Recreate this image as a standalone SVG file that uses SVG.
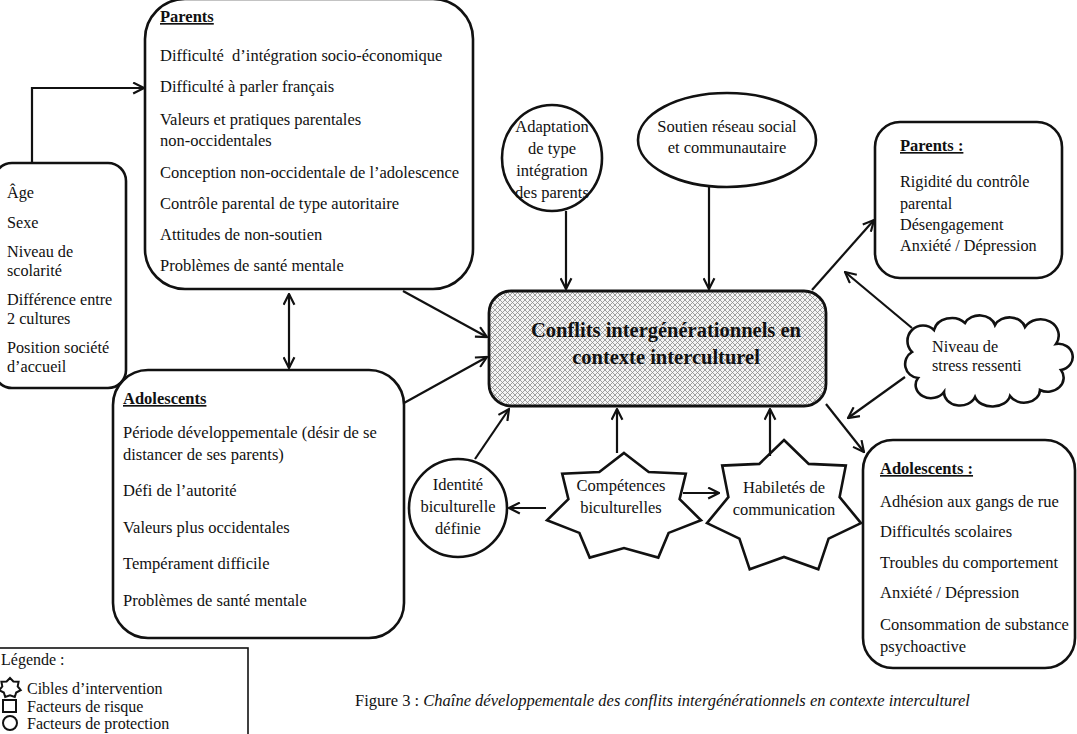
<svg xmlns="http://www.w3.org/2000/svg" width="1077" height="734" viewBox="0 0 1077 734">
<style>
text{font-family:"Liberation Serif","Times New Roman",serif;font-size:16.5px;fill:#111}
.h{font-weight:bold;text-decoration:underline}
.c{text-anchor:middle}
.s{font-size:16.2px}
.box{fill:#fff;stroke:#111;stroke-width:2.6}
.shape{fill:#fff;stroke:#111;stroke-width:2.6}
.conn path{fill:none;stroke:#111;stroke-width:2.2}
.title{font-weight:bold;font-size:20.5px;text-anchor:middle}
.leg{font-size:16px}
</style>
<defs>
<marker id="ah" viewBox="0 0 12 12" markerUnits="userSpaceOnUse" markerWidth="13" markerHeight="13" refX="11" refY="6" orient="auto-start-reverse">
<path d="M1,1 L11,6 L1,11" fill="none" stroke="#111" stroke-width="2"/>
</marker>
<pattern id="hatch" width="5" height="5" patternUnits="userSpaceOnUse">
<rect width="5" height="5" fill="#f4f4f4"/>
<path d="M0,0 L5,5 M5,0 L0,5" stroke="#8a8a8a" stroke-width="0.8"/>
</pattern>
</defs>

<g id="demographics">
<rect class="box" x="-6" y="163" width="132" height="225" rx="18"/>
<text class="s" x="7" y="198">Âge</text>
<text class="s" x="7" y="228">Sexe</text>
<text class="s" x="7" y="257">Niveau de</text>
<text class="s" x="7" y="276">scolarité</text>
<text class="s" x="7" y="305">Différence entre</text>
<text class="s" x="7" y="324">2 cultures</text>
<text class="s" x="7" y="353">Position société</text>
<text class="s" x="7" y="372">d’accueil</text>
</g>

<g id="parents-risk">
<rect class="box" x="145" y="-1" width="328" height="290" rx="40"/>
<text class="h" x="160" y="22">Parents</text>
<text x="160" y="61" xml:space="preserve">Difficulté  d’intégration socio-économique</text>
<text x="160" y="92">Difficulté à parler français</text>
<text x="160" y="125">Valeurs et pratiques parentales</text>
<text x="160" y="146">non-occidentales</text>
<text x="160" y="178">Conception non-occidentale de l’adolescence</text>
<text x="160" y="209">Contrôle parental de type autoritaire</text>
<text x="160" y="240">Attitudes de non-soutien</text>
<text x="160" y="271">Problèmes de santé mentale</text>
</g>

<g id="adolescents-risk">
<rect class="box" x="113" y="370" width="291" height="268" rx="35"/>
<text class="h" x="123" y="404">Adolescents</text>
<text x="123" y="438">Période développementale (désir de se</text>
<text x="123" y="460">distancer de ses parents)</text>
<text x="123" y="496">Défi de l’autorité</text>
<text x="123" y="533">Valeurs plus occidentales</text>
<text x="123" y="569">Tempérament difficile</text>
<text x="123" y="606">Problèmes de santé mentale</text>
</g>

<g id="central">
<rect x="489" y="291" width="337" height="115" rx="22" fill="url(#hatch)" stroke="#111" stroke-width="2.8"/>
<text class="title" x="666" y="337">Conflits intergénérationnels en</text>
<text class="title" x="666" y="364">contexte interculturel</text>
</g>

<g id="adaptation">
<ellipse class="shape" cx="552" cy="158" rx="50" ry="53"/>
<text class="c" x="552" y="132">Adaptation</text>
<text class="c" x="552" y="154">de type</text>
<text class="c" x="552" y="176">intégration</text>
<text class="c" x="552" y="198">des parents</text>
</g>

<g id="soutien">
<ellipse class="shape" cx="727" cy="140" rx="89" ry="47"/>
<text class="c" x="727" y="132">Soutien réseau social</text>
<text class="c" x="727" y="153">et communautaire</text>
</g>

<g id="identite">
<circle class="shape" cx="458" cy="508" r="49"/>
<text class="c" x="458" y="490">Identité</text>
<text class="c" x="458" y="512">biculturelle</text>
<text class="c" x="458" y="534">définie</text>
</g>

<g id="competences">
<polygon class="shape" points="624,453 648.7,472 685.8,473.7 679.6,499.1 701,520.2 668.6,532.9 658.3,557.6 624,548 589.7,557.6 579.4,532.9 547,520.2 568.4,499.1 562.2,473.7 599.3,472"/>
<text class="c" x="621" y="491">Compétences</text>
<text class="c" x="621" y="513">biculturelles</text>
</g>

<g id="habiletes">
<polygon class="shape" points="784,440 808.7,463.9 845.8,465.6 839.6,497.1 861,523.1 828.6,538.6 818.3,569.3 784,557 749.7,569.3 739.4,538.6 707,523.1 728.4,497.1 722.2,465.6 759.3,463.9"/>
<text class="c" x="784" y="493">Habiletés de</text>
<text class="c" x="784" y="515">communication</text>
</g>

<g id="parents-outcomes">
<rect class="box" x="875" y="122" width="187" height="156" rx="25"/>
<text class="h" x="900" y="151">Parents :</text>
<text class="s" x="900" y="187">Rigidité du contrôle</text>
<text class="s" x="900" y="209">parental</text>
<text class="s" x="900" y="230">Désengagement</text>
<text class="s" x="900" y="251">Anxiété / Dépression</text>
</g>

<g id="stress">
<path class="shape" d="M912,352 A14,14 0 0 1 934,330 A18,15 0 0 1 965,323 A16,13 0 0 1 995,325 A16,13 0 0 1 1025,327 A18,16 0 0 1 1056,344 A14,13 0 0 1 1061,370 A16,14 0 0 1 1040,390 A16,13 0 0 1 1010,396 A18,13 0 0 1 975,397 A16,13 0 0 1 944,392 A14,12 0 0 1 918,378 A14,14 0 0 1 912,352 Z"/>
<text class="s" x="932" y="352">Niveau de</text>
<text class="s" x="932" y="371">stress ressenti</text>
</g>

<g id="adolescents-outcomes">
<rect class="box" x="863" y="440" width="212" height="228" rx="30"/>
<text class="h" x="880" y="474">Adolescents :</text>
<text x="880" y="507">Adhésion aux gangs de rue</text>
<text x="880" y="537">Difficultés scolaires</text>
<text x="880" y="568">Troubles du comportement</text>
<text x="880" y="598">Anxiété / Dépression</text>
<text x="880" y="630">Consommation de substance</text>
<text x="880" y="652">psychoactive</text>
</g>

<g class="conn" id="connectors">
<path d="M32,163 V88 H144" marker-end="url(#ah)"/>
<path d="M289,294 V368" marker-start="url(#ah)" marker-end="url(#ah)"/>
<path d="M403,291 L487,337" marker-end="url(#ah)"/>
<path d="M404,403 L487,357" marker-end="url(#ah)"/>
<path d="M566,211 V289" marker-end="url(#ah)"/>
<path d="M709,187 V289" marker-end="url(#ah)"/>
<path d="M475,459 L509,409" marker-end="url(#ah)"/>
<path d="M546,508 H509" marker-end="url(#ah)"/>
<path d="M683,493 H719" marker-end="url(#ah)"/>
<path d="M617,453 V409" marker-end="url(#ah)"/>
<path d="M770,456 V409" marker-end="url(#ah)"/>
<path d="M812,290 L874,220" marker-end="url(#ah)"/>
<path d="M826,404 L864,452" marker-end="url(#ah)"/>
<path d="M912,328 L845,272" marker-end="url(#ah)"/>
<path d="M905,377 L848,418" marker-end="url(#ah)"/>
</g>

<g id="legend">
<rect x="-2" y="648" width="250" height="100" fill="#fff" stroke="#111" stroke-width="1.6"/>
<text class="leg" x="1" y="665">Légende :</text>
<polygon points="10,678 13.4,681.5 18.6,681.8 17.7,686.4 20.7,690.2 16.2,692.5 14.8,697 10,695.2 5.2,697 3.8,692.5 -0.7,690.2 2.3,686.4 1.4,681.8 6.6,681.5" fill="#fff" stroke="#111" stroke-width="2"/>
<text class="leg" x="27" y="694">Cibles d’intervention</text>
<rect x="3" y="700" width="13" height="12" fill="#fff" stroke="#111" stroke-width="2"/>
<text class="leg" x="27" y="712">Facteurs de risque</text>
<circle cx="10" cy="723" r="7" fill="#fff" stroke="#111" stroke-width="2"/>
<text class="leg" x="27" y="729">Facteurs de protection</text>
</g>

<text x="355" y="706">Figure 3 : <tspan font-style="italic">Chaîne développementale des conflits intergénérationnels en contexte interculturel</tspan></text>
</svg>
